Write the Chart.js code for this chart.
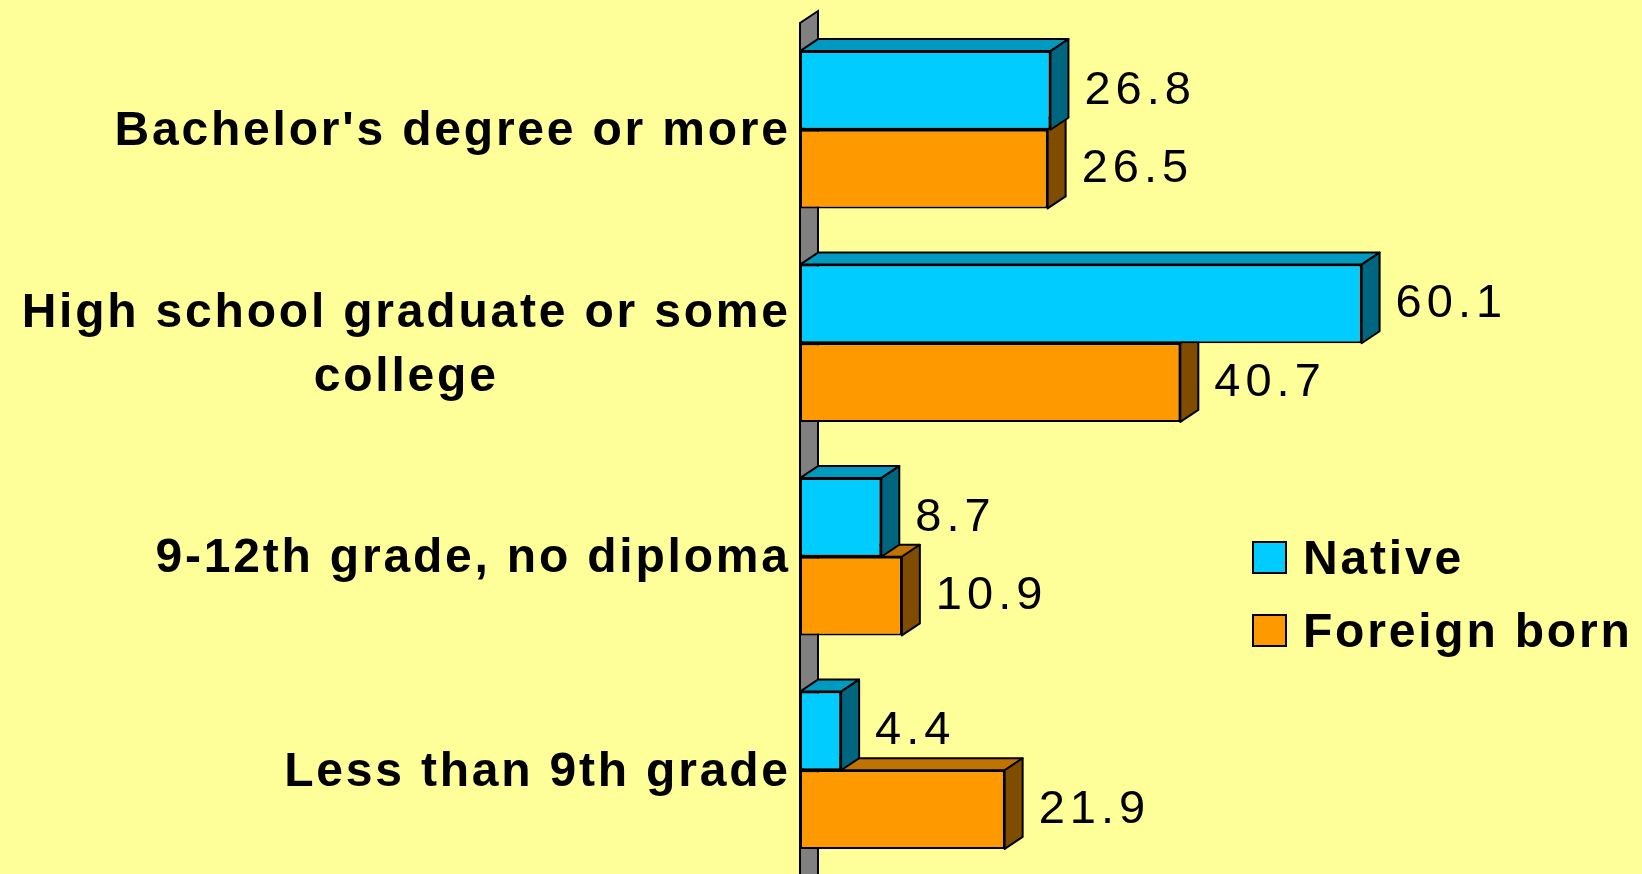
<!DOCTYPE html>
<html>
<head>
<meta charset="utf-8">
<title>Educational attainment: Native vs Foreign born</title>
<script src="https://cdn.jsdelivr.net/npm/chart.js@4.4.0/dist/chart.umd.min.js"></script>
<style>
    html, body { margin: 0; padding: 0; background: #FFFF99; overflow: hidden; }
    #wrap { width: 1642px; height: 877px; position: relative; }
</style>
</head>
<body>
<div id="wrap"><canvas id="eduChart"></canvas></div>
<script>
const categories = [
    ["Bachelor's degree or more"],
    ["High school graduate or some", "college"],
    ["9-12th grade, no diploma"],
    ["Less than 9th grade"]
];
const nativeValues = [26.8, 60.1, 8.7, 4.4];
const foreignValues = [26.5, 40.7, 10.9, 21.9];
const seriesNames = ["Native", "Foreign born"];

// front / top / side colours for each series
const shades = [
    { front: '#00CCFF', top: '#0099C0', side: '#006680' },
    { front: '#FF9900', top: '#C07300', side: '#7F4C00' }
];
const DX = 18, DY = 12;
const boldFont = 'bold 48px "Liberation Sans", Arial, sans-serif';
const plainFont = '47px "Liberation Sans", Arial, sans-serif';

function poly(ctx, pts, fill) {
    ctx.beginPath();
    ctx.moveTo(pts[0][0], pts[0][1]);
    for (let i = 1; i < pts.length; i++) ctx.lineTo(pts[i][0], pts[i][1]);
    ctx.closePath();
    ctx.fillStyle = fill;
    ctx.fill();
    ctx.stroke();
}

const depthPlugin = {
    id: 'depth',
    beforeDatasetsDraw(chart) {
        const ctx = chart.ctx;
        const a = chart.chartArea;
        ctx.save();
        ctx.strokeStyle = '#000';
        ctx.lineWidth = 2;
        poly(ctx, [
            [a.left, a.bottom + 30],
            [a.left, a.top],
            [a.left + DX, a.top - DY],
            [a.left + DX, a.bottom + 30 - DY]
        ], '#808080');
        ctx.restore();
    },
    afterDatasetDraw(chart, args) {
        const ctx = chart.ctx;
        const shade = shades[args.index];
        ctx.save();
        ctx.strokeStyle = '#000';
        ctx.lineWidth = 2;
        ctx.lineJoin = 'round';
        args.meta.data.forEach(bar => {
            const p = bar.getProps(['x', 'y', 'base', 'height'], true);
            const l = p.base, r = p.x;
            const t = p.y - p.height / 2, b = p.y + p.height / 2;
            poly(ctx, [[l, t], [l + DX, t - DY], [r + DX, t - DY], [r, t]], shade.top);
            poly(ctx, [[r, t], [r + DX, t - DY], [r + DX, b - DY], [r, b]], shade.side);
        });
        ctx.restore();
    },
    afterDatasetsDraw(chart) {
        const ctx = chart.ctx;
        const a = chart.chartArea;
        ctx.save();
        ctx.fillStyle = '#000';
        ctx.textBaseline = 'alphabetic';

        // value labels
        ctx.font = plainFont;
        ctx.letterSpacing = '5px';
        ctx.textAlign = 'left';
        chart.data.datasets.forEach((ds, di) => {
            chart.getDatasetMeta(di).data.forEach((bar, i) => {
                const p = bar.getProps(['x', 'y'], true);
                ctx.fillText(ds.data[i].toFixed(1), p.x + DX + 16, p.y + 13.3);
            });
        });

        // category labels, single lines right aligned, wrapped ones centred in their block
        ctx.font = boldFont;
        ctx.letterSpacing = '2.8px';
        ctx.textAlign = 'center';
        const yScale = chart.scales.y;
        const right = a.left - 12 + 2.8;
        const lineH = 64;
        categories.forEach((lines, i) => {
            const cy = yScale.getPixelForValue(i);
            const w = Math.max(...lines.map(s => ctx.measureText(s).width));
            const cx = right - w / 2;
            const first = cy - (lines.length - 1) * lineH / 2;
            lines.forEach((s, k) => {
                ctx.fillText(s, cx, first + k * lineH + 15.7);
            });
        });

        // legend
        ctx.textAlign = 'left';
        ctx.strokeStyle = '#000';
        ctx.lineWidth = 2;
        chart.data.datasets.forEach((ds, di) => {
            const top = 542 + di * 73;
            ctx.fillStyle = shades[di].front;
            ctx.fillRect(1253, top, 33, 31);
            ctx.strokeRect(1253, top, 33, 31);
            ctx.fillStyle = '#000';
            ctx.fillText(ds.label, 1303, top + 32);
        });
        ctx.restore();
    }
};

new Chart(document.getElementById('eduChart'), {
    type: 'bar',
    data: {
        labels: categories.map(c => c.join(' ')),
        datasets: [
            {
                label: seriesNames[0],
                data: nativeValues,
                backgroundColor: shades[0].front,
                borderColor: '#000',
                borderWidth: 2,
                borderSkipped: false
            },
            {
                label: seriesNames[1],
                data: foreignValues,
                backgroundColor: shades[1].front,
                borderColor: '#000',
                borderWidth: 2,
                borderSkipped: false
            }
        ]
    },
    options: {
        indexAxis: 'y',
        responsive: true,
        maintainAspectRatio: false,
        animation: false,
        categoryPercentage: 0.737,
        barPercentage: 1.0,
        layout: { padding: { left: 800, top: 23, right: 1, bottom: 0 } },
        scales: {
            x: { display: false, min: 0, max: 90 },
            y: { display: false }
        },
        plugins: {
            legend: { display: false },
            tooltip: { enabled: false }
        }
    },
    plugins: [depthPlugin]
});
</script>
</body>
</html>
